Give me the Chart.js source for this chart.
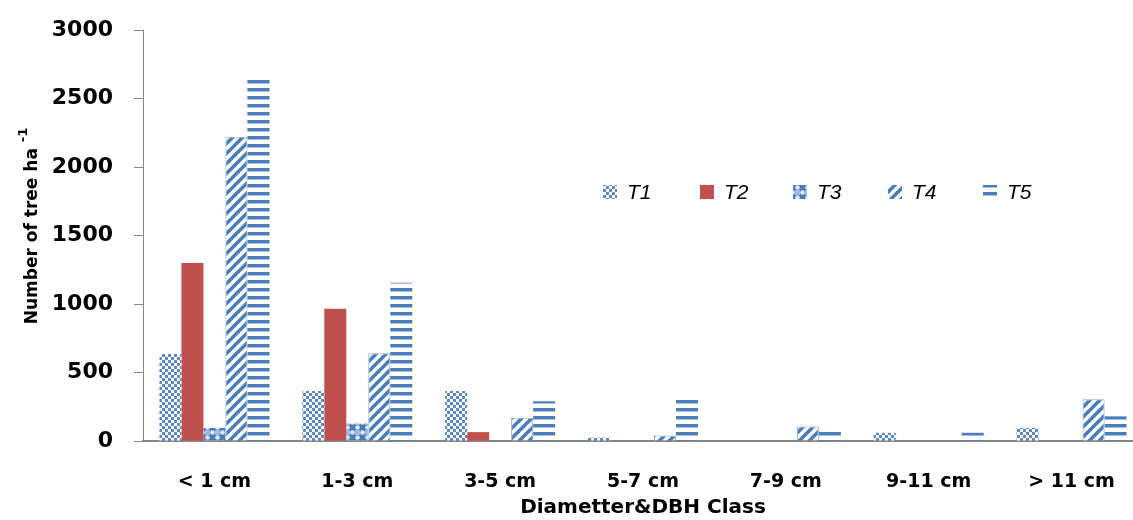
<!DOCTYPE html>
<html>
<head>
<meta charset="utf-8">
<script src="https://cdn.jsdelivr.net/npm/chart.js@4/dist/chart.umd.min.js"></script>
<style>
  html, body { margin: 0; padding: 0; background: #fff; overflow: hidden; }
  #wrap { position: relative; width: 1143px; height: 520px; }
</style>
</head>
<body>
<div id="wrap"><canvas id="c"></canvas></div>
<script>
// Diameter / DBH classes
const categories = ['< 1 cm', '1-3 cm', '3-5 cm', '5-7 cm', '7-9 cm', '9-11 cm', '> 11 cm'];
const seriesNames = ['T1', 'T2', 'T3', 'T4', 'T5'];

// Number of trees per hectare for each treatment
const t1 = [635, 365, 365, 25, 0, 60, 95];
const t2 = [1300, 965, 65, 0, 0, 0, 0];
const t3 = [95, 128, 0, 0, 0, 0, 0];
const t4 = [2220, 640, 170, 40, 105, 0, 305];
const t5 = [2660, 1155, 290, 320, 75, 60, 180];

const yAxisTitle = 'Number of tree ha';
const yAxisTitleSup = '-1';
const xAxisTitle = 'Diametter&DBH Class';

const BLUE = '#4f81bd';
const RED = '#c0504d';

function makeTile(w, h, paint) {
  const cv = document.createElement('canvas');
  cv.width = w; cv.height = h;
  const g = cv.getContext('2d');
  g.fillStyle = '#fff';
  g.fillRect(0, 0, w, h);
  paint(g);
  return document.createElement('canvas').getContext('2d').createPattern(cv, 'repeat');
}

// small checkerboard
const patChecker = makeTile(6, 6, g => {
  g.fillStyle = '#5b8ac4';
  g.fillRect(0, 0, 3, 3);
  g.fillRect(3, 3, 3, 3);
});
// large checker with round spots
const patSpots = makeTile(10, 10, g => {
  g.fillStyle = '#4a7cba';
  g.fillRect(0, 0, 10, 10);
  g.fillStyle = '#dfe9f5';
  g.beginPath(); g.arc(2.5, 2.5, 2.3, 0, Math.PI * 2); g.fill();
  g.beginPath(); g.arc(7.5, 7.5, 2.3, 0, Math.PI * 2); g.fill();
  g.fillStyle = '#9db9dd';
  g.fillRect(5, 0, 5, 5);
});
// wide upward diagonal stripes
const patDiag = makeTile(10, 10, g => {
  g.strokeStyle = '#4a7ebb';
  g.lineWidth = 3.6;
  for (let k = -10; k <= 20; k += 10) {
    g.beginPath();
    g.moveTo(k - 10, 10 + 10);
    g.lineTo(k + 10 + 10, -10);
    g.stroke();
  }
});
// wide horizontal stripes
const patHoriz = makeTile(4, 8, g => {
  g.fillStyle = '#4a7ebb';
  g.fillRect(0, 0, 4, 3.5);
});

const fills = [patChecker, RED, patSpots, patDiag, patHoriz];
const values = [t1, t2, t3, t4, t5];

// in-plot legend row
const legendPlugin = {
  id: 'rowLegend',
  afterDraw(chart) {
    const ctx = chart.ctx;
    const xs = [603, 700, 793, 888, 983];
    const y = 192;
    ctx.save();
    seriesNames.forEach((name, i) => {
      ctx.fillStyle = fills[i];
      ctx.fillRect(xs[i], y - 7, 14, 14);
      ctx.fillStyle = '#000';
      ctx.font = 'italic 21px "Liberation Sans"';
      ctx.textBaseline = 'middle';
      ctx.textAlign = 'left';
      ctx.fillText(name, xs[i] + 24, y + 1);
    });
    ctx.restore();
  }
};

// rotated y-axis title with superscript unit exponent
const yTitlePlugin = {
  id: 'yTitle',
  afterDraw(chart) {
    const ctx = chart.ctx;
    ctx.save();
    ctx.translate(37, 226);
    ctx.rotate(-Math.PI / 2);
    ctx.fillStyle = '#000';
    ctx.textBaseline = 'alphabetic';
    ctx.textAlign = 'left';
    const mainFont = 'bold 17px "DejaVu Sans"';
    const supFont = 'bold 13px "DejaVu Sans"';
    ctx.font = mainFont;
    const w1 = ctx.measureText(yAxisTitle + ' ').width;
    ctx.font = supFont;
    const w2 = ctx.measureText(yAxisTitleSup).width;
    const start = -(w1 + w2) / 2;
    ctx.font = mainFont;
    ctx.fillText(yAxisTitle, start, 0);
    ctx.font = supFont;
    ctx.fillText(yAxisTitleSup, start + w1, -10);
    ctx.restore();
  }
};

new Chart(document.getElementById('c'), {
  type: 'bar',
  data: {
    labels: categories,
    datasets: seriesNames.map((name, i) => ({
      label: name,
      data: values[i],
      backgroundColor: fills[i],
      borderColor: i === 3 ? '#8ea6c4' : 'rgba(0,0,0,0)',
      borderWidth: i === 3 ? 1 : 0,
      categoryPercentage: 0.77,
      barPercentage: 1.0
    }))
  },
  options: {
    responsive: true,
    maintainAspectRatio: false,
    animation: false,
    layout: { padding: { top: 30, left: 0, right: 0, bottom: 0 } },
    plugins: {
      legend: { display: false },
      tooltip: { enabled: false }
    },
    scales: {
      x: {
        grid: { display: false },
        border: { color: '#868686', width: 2 },
        ticks: {
          color: '#000',
          font: { family: 'DejaVu Sans', weight: 'bold', size: 19 },
          padding: 22,
          maxRotation: 0
        },
        title: {
          display: true,
          text: xAxisTitle,
          color: '#000',
          font: { family: 'DejaVu Sans', weight: 'bold', size: 20 },
          padding: { top: 0, bottom: 0 }
        },
        afterFit(scale) { scale.height = 79; }
      },
      y: {
        min: 0,
        max: 3000,
        ticks: {
          stepSize: 500,
          color: '#000',
          padding: 21,
          font: { family: 'DejaVu Sans', weight: 'bold', size: 22 },
          callback: v => String(v)
        },
        grid: {
          drawOnChartArea: false,
          drawTicks: true,
          tickLength: 9,
          color: '#868686'
        },
        border: { color: '#868686', width: 1 },
        afterFit(scale) {
          scale.width = 143;
          scale.paddingTop = 12;
          scale.paddingBottom = 12;
        }
      }
    }
  },
  plugins: [legendPlugin, yTitlePlugin]
});
</script>
</body>
</html>
